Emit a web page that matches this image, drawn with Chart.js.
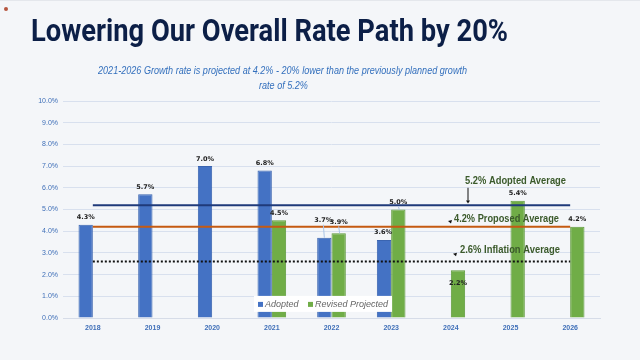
<!DOCTYPE html>
<html>
<head>
<meta charset="utf-8">
<script src="https://cdn.jsdelivr.net/npm/chart.js@4.4.1/dist/chart.umd.min.js"></script>
<style>
  html, body { margin: 0; padding: 0; background: #f4f6f9; }
  #wrap { position: relative; width: 640px; height: 360px; overflow: hidden; border-top: 1px solid #e4e7ec; box-sizing: border-box; }
  #title { position: absolute; left: 31px; top: 11px; font-family: Roboto, sans-serif; font-weight: 700;
           font-size: 31px; color: #0c1f47; white-space: nowrap; transform-origin: left top; }
  .sub { position: absolute; font-family: "Liberation Sans", sans-serif; font-style: italic; font-size: 11px;
         color: #3470bd; white-space: nowrap; transform-origin: left top; }
  #dot { position: absolute; left: 4px; top: 6px; width: 4px; height: 4px; border-radius: 2px; background: #b5553f; }
  #chart { position: absolute; left: 0; top: 0; }
</style>
</head>
<body>
<div id="wrap">
  <canvas id="chart" width="640" height="360"></canvas>
  <div id="dot"></div>
  <div id="title">Lowering Our Overall Rate Path by 20%</div>
  <div class="sub" id="sub1">2021-2026 Growth rate is projected at 4.2% - 20% lower than the previously planned growth</div>
  <div class="sub" id="sub2">rate of 5.2%</div>
</div>
<script>
const years = ['2018', '2019', '2020', '2021', '2022', '2023', '2024', '2025', '2026'];
const adopted = [4.3, 5.7, 7.0, 6.8, 3.7, 3.6, null, null, null];
const revised = [null, null, null, 4.5, 3.9, 5.0, 2.2, 5.4, 4.2];
const adoptedAvg = [5.2, 5.2, 5.2, 5.2, 5.2, 5.2, 5.2, 5.2, 5.2];
const proposedAvg = [4.2, 4.2, 4.2, 4.2, 4.2, 4.2, 4.2, 4.2, 4.2];
const inflationAvg = [2.6, 2.6, 2.6, 2.6, 2.6, 2.6, 2.6, 2.6, 2.6];

// fit the html headings to the widths in the slide
const fit = (id, w) => {
  const el = document.getElementById(id);
  const s = w / el.getBoundingClientRect().width;
  el.style.transform = 'scaleX(' + s + ')';
  return s;
};
fit('title', 477);
const s1 = fit('sub1', 369);
const sub1 = document.getElementById('sub1');
sub1.style.left = '98px'; sub1.style.top = '63px';
const sub2 = document.getElementById('sub2');
sub2.style.transform = 'scaleX(' + s1 + ')';
const w2 = sub2.getBoundingClientRect().width;
sub2.style.left = (283 - w2 / 2) + 'px'; sub2.style.top = '78px';

// special nudges for a few value labels [dx, dy], and which ones get a leader line
const labelNudge = { '0-4': [-1, -10], '1-4': [0, -4], '0-5': [-1, 0], '1-6': [0, 20] };
const leaders = ['0-4', '1-4', '1-5'];

const barLabels = {
  id: 'barLabels',
  afterDatasetsDraw(chart) {
    const ctx = chart.ctx;
    ctx.save();
    ctx.font = 'bold 6.5px "DejaVu Sans", sans-serif';
    ctx.textAlign = 'center';
    ctx.textBaseline = 'bottom';
    [0, 1].forEach(di => {
      const meta = chart.getDatasetMeta(di);
      meta.data.forEach((bar, i) => {
        const v = chart.data.datasets[di].data[i];
        if (v == null) return;
        const key = di + '-' + i;
        const n = labelNudge[key] || [0, 0];
        const lx = bar.x + n[0], ly = bar.y - 4 + n[1];
        if (leaders.includes(key)) {
          ctx.strokeStyle = '#a9c4e6';
          ctx.lineWidth = 1;
          ctx.beginPath();
          ctx.moveTo(lx, ly + 1);
          ctx.lineTo(lx + 1, bar.y);
          ctx.stroke();
        }
        ctx.fillStyle = '#222';
        ctx.fillText(v.toFixed(1) + '%', lx, ly);
      });
    });
    ctx.restore();
  }
};

// draws text squeezed to a given width (the slide uses a narrow font)
const squeezed = (ctx, text, x, y, w) => {
  const s = w / ctx.measureText(text).width;
  ctx.save();
  ctx.translate(x, y);
  ctx.scale(s, 1);
  ctx.fillText(text, 0, 0);
  ctx.restore();
};

const notes = {
  id: 'notes',
  afterDraw(chart) {
    const ctx = chart.ctx;
    const y = chart.scales.y;
    ctx.save();
    ctx.fillStyle = '#3b5a2b';
    ctx.strokeStyle = '#111';
    ctx.font = 'bold 11px "Liberation Sans", sans-serif';
    ctx.textBaseline = 'middle';
    squeezed(ctx, '5.2% Adopted Average', 465, y.getPixelForValue(6.3), 101);
    squeezed(ctx, '4.2% Proposed Average', 454, y.getPixelForValue(4.55), 105);
    squeezed(ctx, '2.6% Inflation Average', 460, y.getPixelForValue(3.12), 100);
    // arrows
    ctx.lineWidth = 1;
    ctx.beginPath();
    ctx.moveTo(468, y.getPixelForValue(6.0));
    ctx.lineTo(468, y.getPixelForValue(5.4));
    ctx.stroke();
    ctx.fillStyle = '#111';
    const tip = (x, yy, dx, dy) => {
      ctx.beginPath();
      ctx.moveTo(x, yy);
      ctx.lineTo(x - 2 * dy - 2 * dx, yy - 3 * dy + dx);
      ctx.lineTo(x + 2 * dy - 2 * dx, yy - 3 * dy - dx);
      ctx.closePath();
      ctx.fill();
    };
    tip(468, y.getPixelForValue(5.28), 0, 1);
    tip(451, y.getPixelForValue(4.35), 0.5, 1);
    tip(456, y.getPixelForValue(2.85), 0.5, 1);

    // legend box inside the plot
    const ly = y.getPixelForValue(0.65);
    ctx.fillStyle = '#ffffff';
    ctx.fillRect(254, ly - 8, 138, 16);
    ctx.font = 'italic 9px "Liberation Sans", sans-serif';
    ctx.textBaseline = 'middle';
    ctx.fillStyle = '#4472c4';
    ctx.fillRect(258, ly - 2, 5, 5);
    ctx.fillStyle = '#70ad47';
    ctx.fillRect(308, ly - 2, 5, 5);
    ctx.fillStyle = '#666';
    ctx.fillText('Adopted', 265, ly + 1);
    ctx.fillText('Revised Projected', 315, ly + 1);
    ctx.restore();
  }
};

new Chart(document.getElementById('chart'), {
  type: 'bar',
  data: {
    labels: years,
    datasets: [
      { label: 'Adopted', data: adopted, backgroundColor: '#4472c4', borderColor: '#3a64b0', borderWidth: 1, order: 2 },
      { label: 'Revised Projected', data: revised, backgroundColor: '#70ad47', borderColor: '#5f9a3c', borderWidth: 1, order: 2 },
      { type: 'line', label: 'Adopted Average', data: adoptedAvg, borderColor: '#1f3a7a', borderWidth: 2, pointRadius: 0, order: 0 },
      { type: 'line', label: 'Proposed Average', data: proposedAvg, borderColor: '#c55a11', borderWidth: 2, pointRadius: 0, order: 0 },
      { type: 'line', label: 'Inflation Average', data: inflationAvg, borderColor: '#111', borderWidth: 2, borderDash: [2, 2], pointRadius: 0, order: 0 }
    ]
  },
  options: {
    responsive: false,
    animation: false,
    layout: { padding: { left: 0, right: 40, top: 100, bottom: 23 } },
    datasets: { bar: { categoryPercentage: 0.48, barPercentage: 1 } },
    plugins: { legend: { display: false }, tooltip: { enabled: false } },
    scales: {
      x: {
        grid: { display: false, drawTicks: false },
        border: { color: '#d6dce8' },
        ticks: { color: '#3f6fb8', font: { size: 7, weight: 'bold' }, padding: 6 },
        afterFit: s => { s.height = 20; }
      },
      y: {
        min: 0, max: 10,
        grid: { color: '#d8e0ee', drawTicks: false },
        border: { display: false },
        ticks: { stepSize: 1, color: '#3f6fb8', font: { size: 7 }, padding: 5,
                 callback: v => v.toFixed(1) + '%' },
        afterFit: s => { s.width = 63; }
      }
    }
  },
  plugins: [barLabels, notes]
});
</script>
</body>
</html>
